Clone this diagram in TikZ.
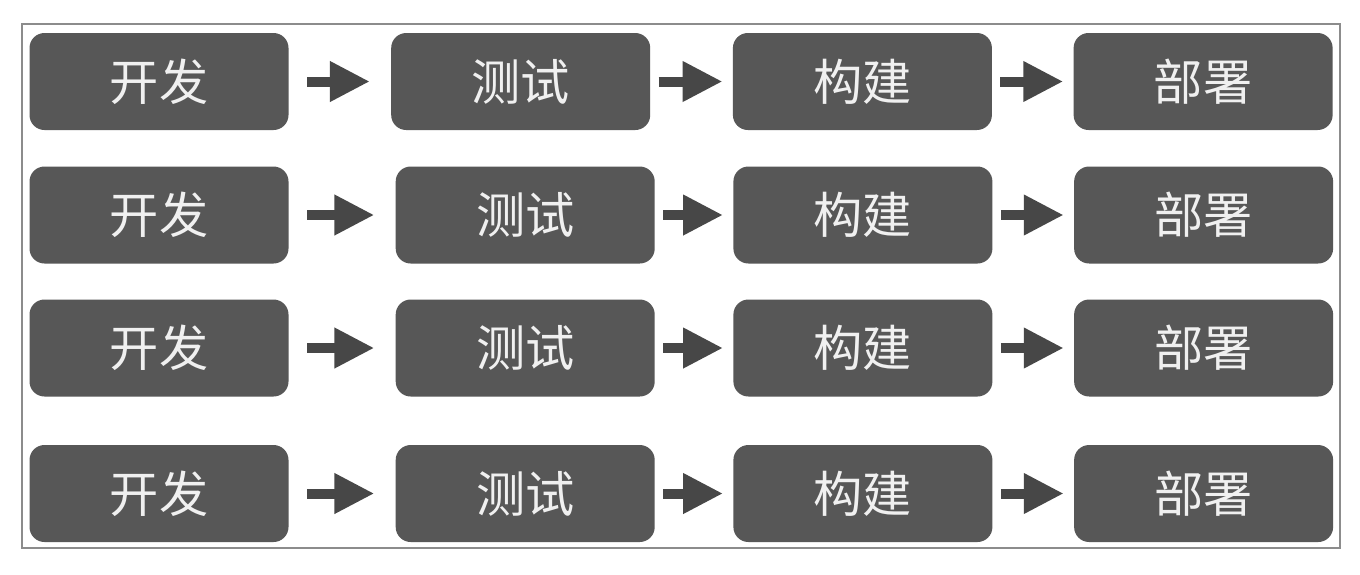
\documentclass[tikz,border=0pt]{standalone}
\usepackage{fontspec}
\newfontfamily\cjk{Noto Sans CJK SC}
\usepackage{xcolor}
\usepackage{tikz}
\usetikzlibrary{arrows.meta, positioning}

\definecolor{boxgray}{HTML}{575757}
\definecolor{arrowgray}{HTML}{474747}
\definecolor{framegray}{HTML}{8C8C8C}

\begin{document}
\begin{tikzpicture}[
    stage/.style={rectangle, rounded corners=0.3cm, fill=boxgray, text=white!94!black,
        minimum width=5.18cm, minimum height=1.94cm, inner sep=0pt,
        font=\cjk\fontsize{28}{30}\selectfont},
    flow/.style={-{Triangle[length=0.8cm, width=0.76cm]}, draw=arrowgray, line width=0.2cm},
    flowfirst/.style={flow, shorten <=0.37cm, shorten >=0.42cm},
    flownext/.style={flow, shorten <=0.16cm, shorten >=0.2cm}
]
    \useasboundingbox (0,0) rectangle (27.2,-11.48);
    \draw[framegray, line width=0.04cm, fill=white] (0.44,-0.48) rectangle (26.8,-10.96);
    % Nodes
    \node[stage] (dev1) at (3.18,-1.63) {开发};
    \node[stage] (test1) [right=2.04cm of dev1] {测试};
    \node[stage] (build1) [right=1.64cm of test1] {构建};
    \node[stage] (deploy1) [right=1.62cm of build1] {部署};

    \node[stage] (dev2) at (3.18,-4.30) {开发};
    \node[stage] (test2) [right=2.13cm of dev2] {测试};
    \node[stage] (build2) [right=1.56cm of test2] {构建};
    \node[stage] (deploy2) [right=1.62cm of build2] {部署};

    \node[stage] (dev3) at (3.18,-6.96) {开发};
    \node[stage] (test3) [right=2.13cm of dev3] {测试};
    \node[stage] (build3) [right=1.56cm of test3] {构建};
    \node[stage] (deploy3) [right=1.62cm of build3] {部署};

    \node[stage] (dev4) at (3.18,-9.87) {开发};
    \node[stage] (test4) [right=2.13cm of dev4] {测试};
    \node[stage] (build4) [right=1.56cm of test4] {构建};
    \node[stage] (deploy4) [right=1.62cm of build4] {部署};
    % Connections
    \draw[flowfirst] (dev1) -- (test1);
    \draw[flownext] (test1) -- (build1);
    \draw[flownext] (build1) -- (deploy1);

    \draw[flowfirst] (dev2) -- (test2);
    \draw[flownext] (test2) -- (build2);
    \draw[flownext] (build2) -- (deploy2);

    \draw[flowfirst] (dev3) -- (test3);
    \draw[flownext] (test3) -- (build3);
    \draw[flownext] (build3) -- (deploy3);

    \draw[flowfirst] (dev4) -- (test4);
    \draw[flownext] (test4) -- (build4);
    \draw[flownext] (build4) -- (deploy4);
\end{tikzpicture}
\end{document}
